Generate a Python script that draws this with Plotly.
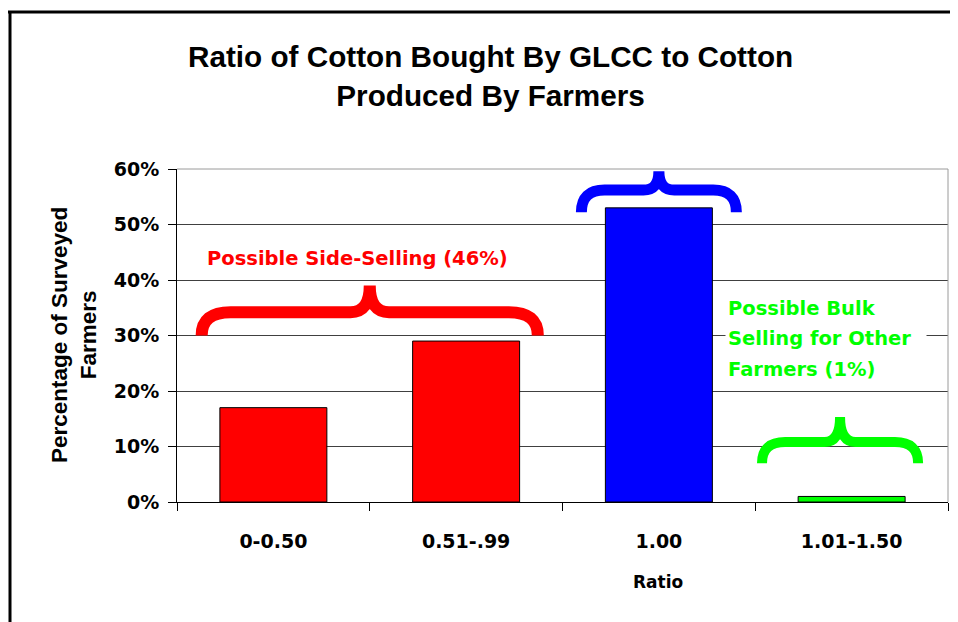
import plotly.graph_objects as go

# ---- data ----
categories = ["0-0.50", "0.51-.99", "1.00", "1.01-1.50"]
values = [0.17, 0.29, 0.53, 0.01]
bar_colors = ["#FF0000", "#FF0000", "#0000FF", "#00FF00"]
y_ticks = [0.0, 0.1, 0.2, 0.3, 0.4, 0.5, 0.6]
y_tick_labels = ["0%", "10%", "20%", "30%", "40%", "50%", "60%"]

group_labels = ["Possible Side-Selling (46%)", "Honoring Contract (53%)",
                ["Possible Bulk", "Selling for Other&nbsp;&nbsp;", "Farmers (1%)"]]
group_colors = ["#FF0000", "#0000FF", "#00FF00"]
group_shares = [0.46, 0.53, 0.01]

# brace geometry in data units: center x, half span, base y, flat y, tip y
brace_center = [0.5, 2.0, 2.94]
brace_half = [0.872, 0.402, 0.405]
brace_base = [0.300, 0.522, 0.070]
brace_flat = [0.342, 0.562, 0.108]
brace_tip = [0.390, 0.596, 0.153]
brace_width = [12, 11, 10]

x = list(range(len(categories)))

fig = go.Figure()
fig.add_trace(go.Bar(
    x=x, y=values, width=0.555,
    marker=dict(color=bar_colors, line=dict(color="black", width=1)),
    hoverinfo="skip",
))


def brace_path(xc, h, yb, yf, yt, rx=0.15, tx=0.1):
    x0, x1 = xc - h, xc + h
    return (f"M {x0},{yb} Q {x0},{yf} {x0 + rx},{yf} "
            f"L {xc - tx},{yf} Q {xc},{yf} {xc},{yt} "
            f"Q {xc},{yf} {xc + tx},{yf} "
            f"L {x1 - rx},{yf} Q {x1},{yf} {x1},{yb}")


shapes = []
for i in range(3):
    shapes.append(dict(
        type="path", xref="x", yref="y",
        path=brace_path(brace_center[i], brace_half[i], brace_base[i],
                        brace_flat[i], brace_tip[i],
                        rx=0.15 if i == 0 else 0.12, tx=0.1 if i == 0 else 0.08),
        line=dict(color=group_colors[i], width=brace_width[i]),
        layer="above",
    ))

# plot-area top and right border (gray)
shapes.append(dict(type="line", xref="paper", yref="paper", x0=0, x1=1, y0=1, y1=1,
                   line=dict(color="#9a9a9a", width=1), layer="above"))
shapes.append(dict(type="line", xref="paper", yref="paper", x0=1, x1=1, y0=0, y1=1,
                   line=dict(color="#9a9a9a", width=1), layer="above"))
# outer frame (top and left black lines)
shapes.append(dict(type="line", xref="paper", yref="paper", x0=-0.223, x1=1.03,
                   y0=1.4715, y1=1.4715, line=dict(color="black", width=3)))
shapes.append(dict(type="line", xref="paper", yref="paper", x0=-0.2166, x1=-0.2166,
                   y0=-0.45, y1=1.4715, line=dict(color="black", width=3)))

ann_font = dict(family="DejaVu Sans", size=19.5, weight="bold")
annotations = [
    dict(xref="paper", yref="paper", x=0.406, y=1.279, xanchor="center", yanchor="middle",
         text="Ratio of Cotton Bought By GLCC to Cotton<br>Produced By Farmers",
         showarrow=False,
         font=dict(family="Liberation Sans, Arial", size=29.7, weight="bold", color="black")),
    dict(xref="paper", yref="paper", x=-0.1336, y=0.5015, xanchor="center", yanchor="middle",
         text="Percentage of Surveyed<br>Farmers", textangle=-90, showarrow=False,
         font=dict(family="Liberation Sans, Arial", size=22.5, weight="bold", color="black")),
    dict(xref="paper", yref="paper", x=0.624, y=-0.24, xanchor="center", yanchor="middle",
         text="Ratio", showarrow=False,
         font=dict(family="DejaVu Sans", size=17, weight="bold", color="black")),
    dict(xref="x", yref="y", x=0.434, y=0.4396, xanchor="center", yanchor="middle",
         text=group_labels[0], showarrow=False, font=dict(ann_font, color=group_colors[0])),
    dict(xref="x", yref="y", x=2.0, y=0.647, xanchor="center", yanchor="middle",
         text=group_labels[1], showarrow=False, font=dict(ann_font, color=group_colors[1])),
]
green_y = [0.3495, 0.2955, 0.2396]
for line_text, gy in zip(group_labels[2], green_y):
    annotations.append(dict(
        xref="x", yref="y", x=2.345, y=gy, xanchor="left", yanchor="middle",
        text=line_text, showarrow=False, bgcolor="white", borderpad=2,
        font=dict(ann_font, color=group_colors[2])))

fig.update_layout(
    width=958, height=622,
    margin=dict(l=169, r=18, t=161, b=128),
    paper_bgcolor="white", plot_bgcolor="white",
    showlegend=False,
    shapes=shapes,
    annotations=annotations,
    xaxis=dict(
        range=[-0.5, 3.5], tickmode="array", tickvals=x, ticktext=categories,
        ticks="outside", ticklen=22, tickcolor="rgba(0,0,0,0)",
        minor=dict(tickmode="array", tickvals=[-0.5, 0.5, 1.5, 2.5, 3.5],
                   ticks="outside", ticklen=8, tickcolor="black", showgrid=False),
        showline=True, linecolor="black", linewidth=1,
        showgrid=False, zeroline=False,
        tickfont=dict(family="DejaVu Sans", size=19, weight="bold", color="black"),
    ),
    yaxis=dict(
        range=[0, 0.6], tickmode="array", tickvals=y_ticks, ticktext=y_tick_labels,
        ticks="outside", ticklen=8, tickcolor="black", ticklabelstandoff=5,
        showline=True, linecolor="black", linewidth=1,
        showgrid=True, gridcolor="#404040", gridwidth=1, zeroline=False,
        tickfont=dict(family="DejaVu Sans", size=19, weight="bold", color="black"),
    ),
)

fig.write_html("out.html")
